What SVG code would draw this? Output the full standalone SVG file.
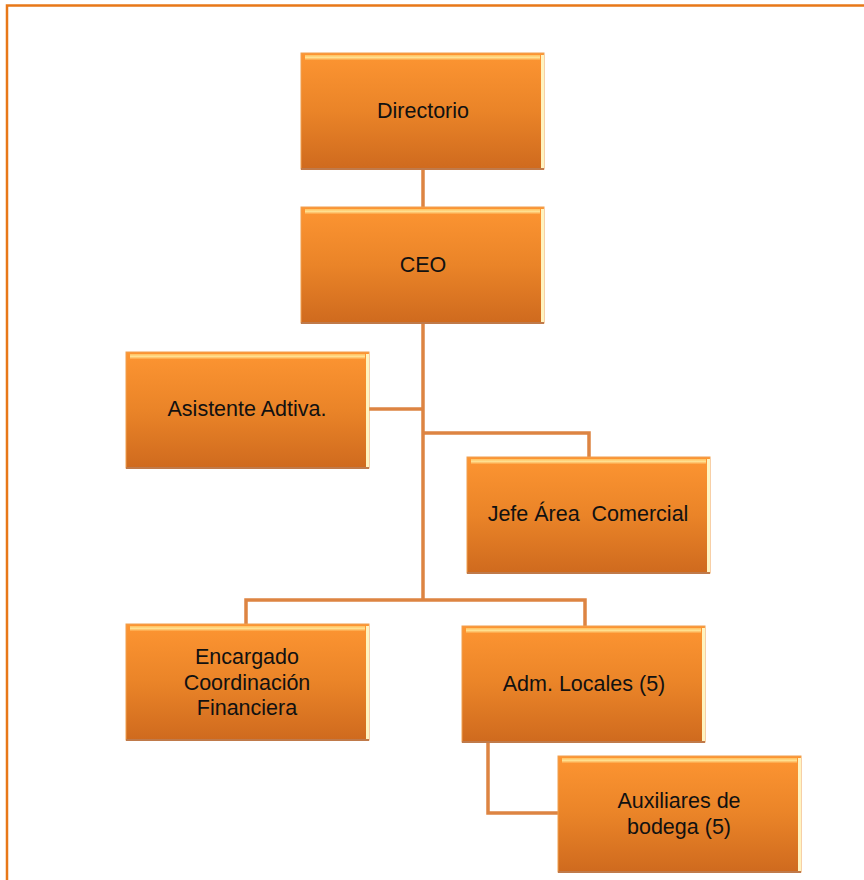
<svg xmlns="http://www.w3.org/2000/svg" width="864" height="880" viewBox="0 0 864 880">
<style>
.box{fill:url(#g);stroke:#f0a050;stroke-width:1}
.hl{fill:url(#hg)}
.hr{fill:#fff4c0}
.sh{fill:#c07a4a}
.t{font-family:"Liberation Sans",Arial,sans-serif;font-size:21.5px;fill:#111;text-anchor:middle;white-space:pre}
.c{fill:none;stroke:#dd8442;stroke-width:3.5}
</style>
<defs>
<linearGradient id="g" x1="0" y1="0" x2="0" y2="1">
<stop offset="0" stop-color="#fd9532"/>
<stop offset="0.5" stop-color="#ea8428"/>
<stop offset="1" stop-color="#cf6a1e"/>
</linearGradient>
<linearGradient id="hg" x1="0" y1="0" x2="0" y2="1">
<stop offset="0" stop-color="#ffc060"/>
<stop offset="0.5" stop-color="#ffe090"/>
<stop offset="1" stop-color="#fda040"/>
</linearGradient>
<g id="bx">
<rect class="box" x="0" y="0" width="243" height="116"/>
<rect class="hl" x="4" y="2" width="235" height="5"/>
<rect class="hr" x="240" y="2" width="3" height="113"/>
<rect class="sh" x="0" y="115" width="243" height="2"/>
</g>
</defs>
<rect width="864" height="880" fill="#fff"/>
<path d="M7,880 V5.5 H864" fill="none" stroke="#e87818" stroke-width="2.5"/>
<g id="connectors">
<path class="c" d="M423,170 V207"/>
<path class="c" d="M423,322 V600"/>
<path class="c" d="M368,409 H423"/>
<path class="c" d="M423,433 H589 V457"/>
<path class="c" d="M246,624 V600 H585 V626"/>
<path class="c" d="M488,742 V813 H558"/>
</g>
<g id="directorio"><use href="#bx" x="301" y="53"/><text class="t" x="423" y="118">Directorio</text></g>
<g id="ceo"><use href="#bx" x="301" y="207"/><text class="t" x="423" y="272">CEO</text></g>
<g id="asistente"><use href="#bx" x="126" y="352"/><text class="t" x="247" y="416">Asistente Adtiva.</text></g>
<g id="jefe"><use href="#bx" x="467" y="457"/><text class="t" x="588" y="521" xml:space="preserve">Jefe Área  Comercial</text></g>
<g id="encargado"><use href="#bx" x="126" y="624"/><text class="t" x="247" y="664">Encargado</text><text class="t" x="247" y="690">Coordinación</text><text class="t" x="247" y="715">Financiera</text></g>
<g id="adm"><use href="#bx" x="462" y="626"/><text class="t" x="584" y="691">Adm. Locales (5)</text></g>
<g id="auxiliares"><use href="#bx" x="558" y="756"/><text class="t" x="679" y="808">Auxiliares de</text><text class="t" x="679" y="834">bodega (5)</text></g>
</svg>
